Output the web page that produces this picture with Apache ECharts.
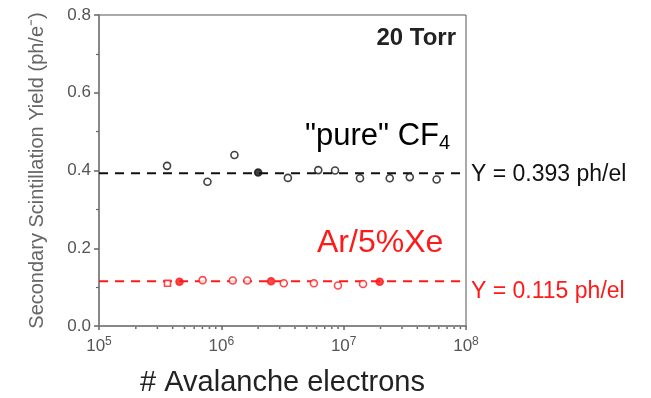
<!DOCTYPE html>
<html>
<head>
<meta charset="utf-8">
<script src="https://cdn.jsdelivr.net/npm/echarts@6/dist/echarts.min.js"></script>
<style>
  html, body { margin: 0; padding: 0; background: #fff; }
  #chart { width: 651px; height: 398px; }
</style>
</head>
<body>
<div id="chart"></div>
<script>
// Number of avalanche electrons (x) and secondary scintillation yield (ph/e-) (y)
const cf4X = [3.6e5, 7.7e5, 1.28e6, 2.0e6, 3.5e6, 6.2e6, 8.5e6, 1.36e7, 2.38e7, 3.47e7, 5.75e7];
const cf4Y = [0.412, 0.371, 0.440, 0.395, 0.381, 0.401, 0.400, 0.380, 0.380, 0.383, 0.377];
const cf4Filled = [false, false, false, true, false, false, false, false, false, false, false];

const arXeX = [3.63e5, 4.55e5, 7.03e5, 1.24e6, 1.63e6, 2.55e6, 3.24e6, 5.71e6, 8.98e6, 1.44e7, 1.97e7];
const arXeY = [0.110, 0.114, 0.118, 0.117, 0.117, 0.115, 0.110, 0.110, 0.104, 0.108, 0.114];
const arXeFilled = [false, true, false, false, false, true, false, false, false, false, true];
const arXeSquare = [true, false, false, false, false, false, false, false, false, false, false];

// Mean yields (fit lines)
const cf4Mean = 0.393;
const arXeMean = 0.115;

// Axis range and tick labels
const xRange = [1e5, 1e8];
const xDecadeExp = { 100000: '5', 1000000: '6', 10000000: '7', 100000000: '8' };
const xMinorTicks = [];
[1e5, 1e6, 1e7].forEach(d => { for (let k = 2; k <= 9; k++) xMinorTicks.push(d * k); });

const FONT = 'Liberation Sans, Arial, sans-serif';
const RED = '#ff1a1a';
const BLACK = '#111';

function pointData(xs, ys, filled, square, color) {
  return xs.map((x, i) => ({
    value: [x, ys[i]],
    symbol: square && square[i] ? 'rect' : 'circle',
    symbolSize: square && square[i] ? 6 : 7,
    itemStyle: {
      color: filled[i] ? color : '#fff',
      borderColor: color,
      borderWidth: 1.6
    }
  }));
}

function fitLine(mean, color, name, labelOffset) {
  return {
    type: 'line',
    name: name,
    data: [[xRange[0], mean], [xRange[1], mean]],
    symbol: 'none',
    silent: true,
    z: 1,
    lineStyle: { color: color, width: 2, type: [9, 7] },
    endLabel: {
      show: true,
      formatter: p => 'Y = ' + p.value[1].toFixed(3) + ' ph/el',
      color: color,
      fontFamily: FONT,
      fontSize: 23,
      distance: 5,
      offset: labelOffset
    }
  };
}

const chart = echarts.init(document.getElementById('chart'), null, { renderer: 'canvas' });

chart.setOption({
  animation: false,
  backgroundColor: '#fff',
  grid: {
    left: 99, right: 185, top: 15, bottom: 72,
    containLabel: false,
    outerBoundsMode: 'none',
    show: true, borderColor: '#555', borderWidth: 1, backgroundColor: 'transparent'
  },
  xAxis: {
    type: 'log',
    logBase: 10,
    min: xRange[0],
    max: xRange[1],
    splitNumber: 3,
    name: '# Avalanche electrons',
    nameLocation: 'middle',
    nameGap: 42,
    nameTextStyle: { fontFamily: FONT, fontSize: 29, color: '#222' },
    axisLine: { lineStyle: { color: '#888', width: 2 } },
    axisTick: { show: true, inside: false, length: 4, lineStyle: { color: '#666', width: 1.5 } },
    splitLine: { show: false },
    axisLabel: {
      margin: 10,
      formatter: v => '{b|10}{s|' + (xDecadeExp[Math.round(v)] || '') + '}',
      rich: {
        b: { fontFamily: FONT, fontSize: 17, color: '#555' },
        s: { fontFamily: FONT, fontSize: 12, color: '#555', verticalAlign: 'top', padding: [0, 0, 8, 0] }
      }
    }
  },
  yAxis: {
    type: 'value',
    min: 0,
    max: 0.8,
    interval: 0.2,
    name: 'Secondary Scintillation Yield (ph/e\u207B)',
    nameLocation: 'middle',
    nameGap: 52,
    nameTextStyle: { fontFamily: FONT, fontSize: 20, color: '#666' },
    axisLine: { show: true, lineStyle: { color: '#888', width: 2 } },
    axisTick: { show: true, inside: false, length: 5, lineStyle: { color: '#666', width: 1.5 } },
    minorTick: { show: true, splitNumber: 2, length: 3, lineStyle: { color: '#666', width: 1.2 } },
    splitLine: { show: false },
    axisLabel: {
      margin: 8,
      formatter: v => v.toFixed(1),
      fontFamily: FONT, fontSize: 17, color: '#555'
    }
  },
  series: [
    // logarithmic minor ticks on the x axis
    {
      type: 'custom',
      silent: true,
      clip: false,
      data: xMinorTicks.map(v => [v, 0]),
      renderItem: (params, api) => {
        const p = api.coord([api.value(0), 0]);
        return {
          type: 'line',
          shape: { x1: p[0], y1: p[1] + 1, x2: p[0], y2: p[1] + 3 },
          style: { stroke: '#666', lineWidth: 1.5 }
        };
      }
    },
    fitLine(cf4Mean, BLACK, 'CF4 fit', [0, 1]),
    fitLine(arXeMean, RED, 'ArXe fit', [0, 10]),
    {
      type: 'scatter',
      name: 'CF4',
      z: 3,
      data: pointData(cf4X, cf4Y, cf4Filled, null, BLACK)
    },
    {
      type: 'scatter',
      name: 'Ar/5%Xe',
      z: 3,
      data: pointData(arXeX, arXeY, arXeFilled, arXeSquare, RED)
    }
  ],
  graphic: [
    {
      type: 'text', x: 456, y: 38,
      style: {
        text: '20 Torr', fontFamily: FONT, fontSize: 24, fontWeight: 'bold', fill: '#222',
        align: 'right', verticalAlign: 'middle'
      }
    },
    {
      type: 'text', x: 305, y: 136,
      style: {
        text: '{m|"pure" CF}{sub|4}',
        verticalAlign: 'middle',
        rich: {
          m: { fontFamily: FONT, fontSize: 31, color: '#333' },
          sub: { fontFamily: FONT, fontSize: 20, color: '#333', verticalAlign: 'bottom', padding: [14, 0, 0, 0] }
        }
      }
    },
    {
      type: 'text', x: 317, y: 243,
      style: {
        text: 'Ar/5%Xe', fontFamily: FONT, fontSize: 32, fill: RED,
        verticalAlign: 'middle'
      }
    }
  ]
});
</script>
</body>
</html>
